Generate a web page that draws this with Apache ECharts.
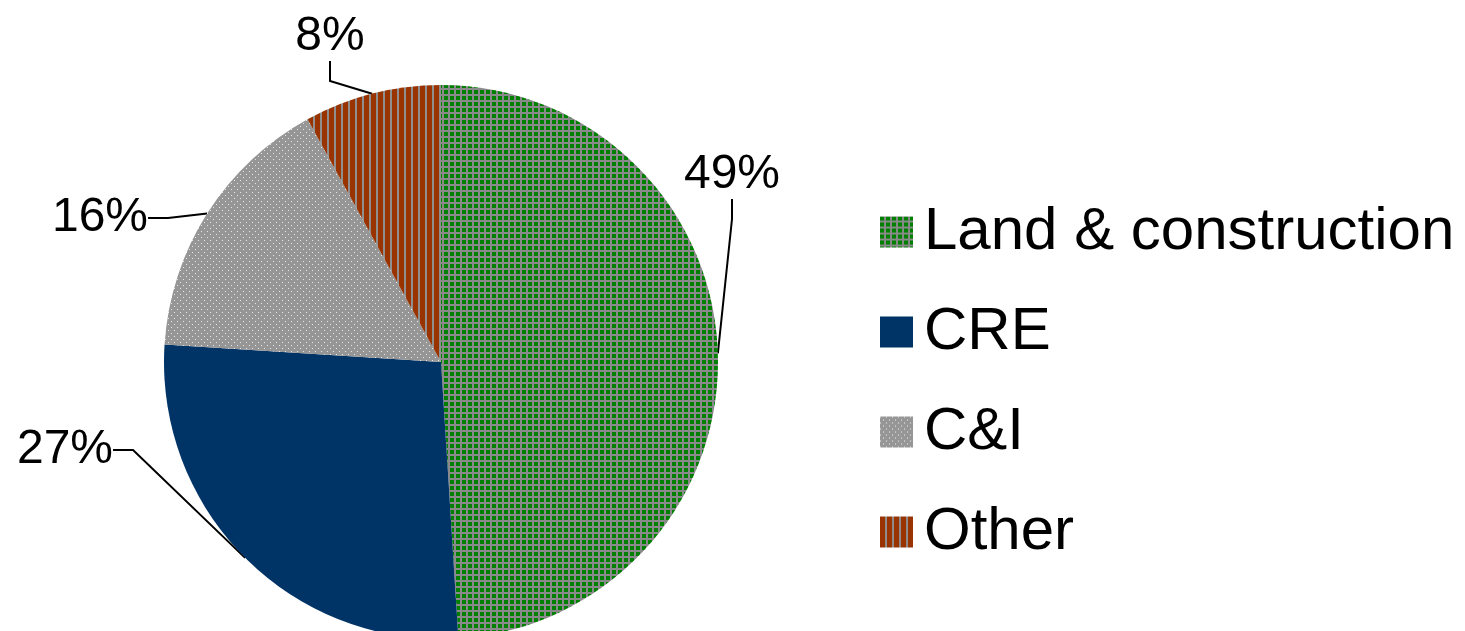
<!DOCTYPE html>
<html>
<head>
<meta charset="utf-8">
<script src="https://cdn.jsdelivr.net/npm/echarts@6/dist/echarts.min.js"></script>
<style>
  html, body { margin: 0; padding: 0; background: #fff; }
  #main { width: 1465px; height: 631px; }
</style>
</head>
<body>
<div id="main"></div>
<script>
// data
var categories = ['Land & construction', 'CRE', 'C&I', 'Other'];
var shares = [49, 27, 16, 8];
var labelSpots = [[732, 175], [65, 450], [100, 218], [330, 37]];

// small tiled fills like the office-chart patterns
function makePattern(w, h, draw) {
  var c = document.createElement('canvas');
  c.width = w; c.height = h;
  draw(c.getContext('2d'));
  return { image: c, repeat: 'repeat' };
}

var greenGrid = makePattern(6, 6, function (ctx) {
  ctx.fillStyle = '#8a8a8a';
  ctx.fillRect(0, 0, 6, 6);
  ctx.fillStyle = '#008000';
  ctx.fillRect(0, 0, 4, 4);
});
var navy = '#003366';
var grayDots = makePattern(6, 6, function (ctx) {
  ctx.fillStyle = '#969696';
  ctx.fillRect(0, 0, 6, 6);
  ctx.fillStyle = '#e8e8e8';
  ctx.fillRect(0, 0, 1, 1);
  ctx.fillRect(3, 3, 1, 1);
});
var brownStripes = makePattern(7, 4, function (ctx) {
  ctx.fillStyle = '#993300';
  ctx.fillRect(0, 0, 7, 4);
  ctx.fillStyle = '#8f8f8f';
  ctx.fillRect(5, 0, 2, 4);
});
var fills = [greenGrid, navy, grayDots, brownStripes];

var myChart = echarts.init(document.getElementById('main'));
var option = {
  animation: false,
  legend: {
    orient: 'vertical',
    left: 875,
    top: 197,
    itemWidth: 33,
    itemHeight: 31,
    itemGap: 40,
    icon: 'rect',
    data: categories,
    textStyle: {
      fontFamily: 'Liberation Sans, Arial, sans-serif',
      fontSize: 60,
      lineHeight: 60,
      color: '#000',
      padding: [0, 0, 0, 6]
    }
  },
  series: [{
    type: 'pie',
    center: [441, 362],
    radius: 277,
    startAngle: 90,
    clockwise: true,
    data: categories.map(function (name, i) {
      return { name: name, value: shares[i], itemStyle: { color: fills[i] } };
    }),
    label: {
      show: true,
      position: 'outside',
      formatter: '{c}%',
      fontFamily: 'Liberation Sans, Arial, sans-serif',
      fontSize: 48,
      color: '#000'
    },
    labelLine: {
      show: true,
      length: 20,
      length2: 20,
      lineStyle: { color: '#000', width: 2 }
    },
    labelLayout: function (params) {
      var p = labelSpots[params.dataIndex];
      return { x: p[0], y: p[1], align: 'center', verticalAlign: 'middle' };
    },
    emphasis: { disabled: true }
  }]
};
myChart.setOption(option);
</script>
</body>
</html>
